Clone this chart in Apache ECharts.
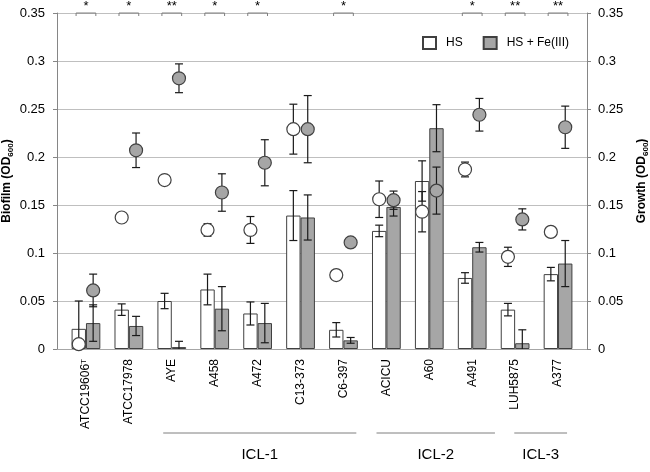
<!DOCTYPE html>
<html><head><meta charset="utf-8">
<script src="https://cdn.jsdelivr.net/npm/echarts@6/dist/echarts.min.js"></script>
<style>html,body{margin:0;padding:0;background:#fff}#c{width:650px;height:472px}</style>
</head><body><div id="c"></div>
<script>
// ---- data ----
const categories = ['ATCC19606','ATCC17978','AYE','A458','A472','C13-373','C6-397','ACICU','A60','A491','LUH5875','A377'];
const biofilmHS     = [0.021, 0.041, 0.050, 0.062, 0.037, 0.139, 0.020, 0.123, 0.175, 0.074, 0.041, 0.078];
const biofilmHSErr  = [0.029, 0.006, 0.008, 0.016, 0.012, 0.026, 0.0075, 0.006, 0.021, 0.0055, 0.0065, 0.007];
const biofilmFe     = [0.027, 0.024, 0.002, 0.042, 0.027, 0.137, 0.009, 0.148, 0.230, 0.106, 0.006, 0.089];
const biofilmFeErr  = [0.019, 0.010, 0.006, 0.023, 0.0205, 0.0235, 0.003, 0.0095, 0.0245, 0.005, 0.014, 0.024];
const growthHS      = [0.005, 0.137, 0.176, 0.124, 0.124, 0.229, 0.077, 0.156, 0.143, 0.187, 0.096, 0.122];
const growthHSErr   = [0, 0, 0, 0.0065, 0.014, 0.026, 0, 0.019, 0.021, 0.0077, 0.010, 0.0035];
const growthFe      = [0.061, 0.207, 0.282, 0.163, 0.194, 0.229, 0.111, 0.155, 0.165, 0.244, 0.135, 0.231];
const growthFeErr   = [0.017, 0.018, 0.015, 0.0195, 0.024, 0.035, 0, 0.0095, 0.0245, 0.017, 0.011, 0.022];
const significance  = ['*','*','**','*','*','','*','','','*','**','**'];
const yTicks = [0, 0.05, 0.1, 0.15, 0.2, 0.25, 0.3, 0.35];
const groups = [
  {name:'ICL-1', from:2, to:6},
  {name:'ICL-2', from:7, to:9},
  {name:'ICL-3', from:10, to:11}
];

// ---- chart ----
const FONT = 'Liberation Sans';
const chart = echarts.init(document.getElementById('c'), null, {renderer:'canvas'});
const GAP = 0.33;
const ERR_COLOR = '#1a1a1a';
const EDGE = '#404040';
const GRAY = '#a6a6a6';

function offsetFor(api, sign){ return sign * api.size([1,0])[0] * (1-GAP) / 4; }

function errRender(values, errs, sign){
  return function(params, api){
    const i = params.dataIndex;
    const v = values[i], e = errs[i];
    if (!e) return null;
    const off = offsetFor(api, sign);
    const p = api.coord([i, v]);
    const top = api.coord([i, v + e]);
    const low = v - e;
    const bot = api.coord([i, Math.max(0, low)]);
    const x = p[0] + off, cap = 4;
    const st = {stroke: ERR_COLOR, lineWidth: 1.2};
    const ch = [
      {type:'line', shape:{x1:x, y1:top[1], x2:x, y2:bot[1]}, style:st},
      {type:'line', shape:{x1:x-cap, y1:top[1], x2:x+cap, y2:top[1]}, style:st}
    ];
    if (low >= 0) ch.push({type:'line', shape:{x1:x-cap, y1:bot[1], x2:x+cap, y2:bot[1]}, style:st});
    return {type:'group', children: ch};
  };
}
function circleRender(values, sign, fill){
  return function(params, api){
    const i = params.dataIndex;
    const p = api.coord([i, values[i]]);
    return {type:'circle', shape:{cx: p[0] + offsetFor(api, sign), cy: p[1], r: 6.5},
      style:{fill: fill, stroke: EDGE, lineWidth: 1.2}};
  };
}
function sigRender(params, api){
  const i = params.dataIndex;
  const s = significance[i];
  if (!s) return null;
  const p = api.coord([i, yTicks[yTicks.length-1]]);
  const hw = api.size([1,0])[0] * 0.23;
  return {type:'group', children:[
    {type:'polyline', shape:{points:[[p[0]-hw, p[1]+3],[p[0]-hw, p[1]],[p[0]+hw, p[1]],[p[0]+hw, p[1]+3]]}, style:{stroke:'#7f7f7f', lineWidth:1, fill:null}},
    {type:'text', style:{text:s, x:p[0], y:p[1]-7, align:'center', verticalAlign:'middle', fontSize:13, fontFamily:FONT, fill:'#000'}}
  ]};
}
const idxData = categories.map((c,i)=>[i, 0]);

const nameStyle = {
  fontFamily: FONT, fontSize: 12, fontWeight: 'bold', color: '#000',
  rich: {
    b: {fontFamily: FONT, fontSize: 12, fontWeight: 'bold', color:'#000', lineHeight: 16, verticalAlign:'middle'},
    s: {fontFamily: FONT, fontSize: 8, fontWeight: 'bold', color:'#000', lineHeight: 16, verticalAlign:'bottom', padding:[6,0,0,0]}
  }
};

const option = {
  animation: false,
  backgroundColor: '#fff',
  textStyle: {fontFamily: FONT},
  grid: [
    {left: 64.5, right: 70.5, top: 13, bottom: 123, outerBoundsMode: 'none', containLabel: false},
    {left: 57, right: 63, top: 13, bottom: 123, outerBoundsMode: 'none', containLabel: false}
  ],
  legend: {
    data: ['HS', 'HS + Fe(III)'],
    left: 417, top: 31,
    itemWidth: 13, itemHeight: 12, itemGap: 20,
    icon: 'rect',
    textStyle: {fontFamily: FONT, fontSize: 12, color: '#000', padding:[0,0,0,5]}
  },
  xAxis: [
    {type:'category', gridIndex:0, data: categories,
     axisLine:{show:false}, axisTick:{show:false},
     axisLabel:{rotate:90, margin:10, fontFamily:FONT, fontSize:12, color:'#000', interval:0,
       formatter: (v, i) => i === 0 ? v + '{sup|T}' : v,
       rich:{sup:{fontFamily:FONT, fontSize:8, color:'#000', verticalAlign:'top', lineHeight:12}}}},
    {type:'value', gridIndex:1, min:0, max:1, show:true,
     axisLine:{show:true, lineStyle:{color:'#a6a6a6', width:1}}, axisTick:{show:false},
     axisLabel:{show:false}, splitLine:{show:false}}
  ],
  yAxis: [
    {type:'value', gridIndex:0, min:0, max:0.35, interval:0.05, show:false},
    {type:'value', gridIndex:1, position:'left', min:0, max:0.35, interval:0.05,
     name:'{b|Biofilm (OD}{s|600}{b|)}', nameLocation:'middle', nameRotate:90, nameGap:42,
     nameMoveOverlap: false,
     nameTextStyle: nameStyle,
     axisLine:{show:true, lineStyle:{color:'#868686', width:1}},
     axisTick:{show:true, length:4, lineStyle:{color:'#868686'}},
     axisLabel:{margin:12, fontFamily:FONT, fontSize:13, color:'#000'},
     splitLine:{show:true, lineStyle:{color:'#bfbfbf', width:1}}},
    {type:'value', gridIndex:1, position:'right', min:0, max:0.35, interval:0.05,
     name:'{b|Growth (OD}{s|600}{b|)}', nameLocation:'middle', nameRotate:90, nameGap:47,
     nameMoveOverlap: false,
     nameTextStyle: nameStyle,
     axisLine:{show:true, lineStyle:{color:'#868686', width:1}},
     axisTick:{show:true, length:4, lineStyle:{color:'#868686'}},
     axisLabel:{margin:11, fontFamily:FONT, fontSize:13, color:'#000'},
     splitLine:{show:false}}
  ],
  series: [
    {name:'HS', type:'bar', xAxisIndex:0, yAxisIndex:0, data: biofilmHS,
     barGap:'0%', barCategoryGap:(GAP*100)+'%',
     itemStyle:{color:'#ffffff', borderColor:EDGE, borderWidth:1}},
    {name:'HS + Fe(III)', type:'bar', xAxisIndex:0, yAxisIndex:0, data: biofilmFe,
     barGap:'0%', barCategoryGap:(GAP*100)+'%',
     itemStyle:{color:GRAY, borderColor:EDGE, borderWidth:1}},
    {name:'errBiofilmHS', type:'custom', xAxisIndex:0, yAxisIndex:0, data: idxData, renderItem: errRender(biofilmHS, biofilmHSErr, -1), z:3},
    {name:'errBiofilmFe', type:'custom', xAxisIndex:0, yAxisIndex:0, data: idxData, renderItem: errRender(biofilmFe, biofilmFeErr, 1), z:3},
    {name:'errGrowthHS', type:'custom', xAxisIndex:0, yAxisIndex:0, data: idxData, renderItem: errRender(growthHS, growthHSErr, -1), z:3},
    {name:'errGrowthFe', type:'custom', xAxisIndex:0, yAxisIndex:0, data: idxData, renderItem: errRender(growthFe, growthFeErr, 1), z:3},
    {name:'Growth HS', type:'custom', xAxisIndex:0, yAxisIndex:0, data: idxData, renderItem: circleRender(growthHS, -1, '#ffffff'), z:4},
    {name:'Growth HS + Fe(III)', type:'custom', xAxisIndex:0, yAxisIndex:0, data: idxData, renderItem: circleRender(growthFe, 1, GRAY), z:4},
    {name:'sig', type:'custom', xAxisIndex:0, yAxisIndex:0, data: idxData, renderItem: sigRender, z:5, clip:false}
  ]
};
chart.setOption(option);

// group annotations below the category labels
const groupOffsets = {'ICL-1':[-0.2, 0.3], 'ICL-2':[-0.23, 0.53], 'ICL-3':[-0.02, 0.21]};
const band = Math.abs(chart.convertToPixel({xAxisIndex:0}, 1) - chart.convertToPixel({xAxisIndex:0}, 0));
const graphics = [];
groups.forEach(g => {
  const off = groupOffsets[g.name];
  const xa = chart.convertToPixel({xAxisIndex:0}, g.from) + off[0]*band;
  const xb = chart.convertToPixel({xAxisIndex:0}, g.to) + off[1]*band;
  graphics.push({type:'line', shape:{x1:xa, y1:433, x2:xb, y2:433}, style:{stroke:'#7f7f7f', lineWidth:1}});
  graphics.push({type:'text', style:{text:g.name, x:(xa+xb)/2, y:455, align:'center', verticalAlign:'middle', fontSize:15, fontFamily:FONT, fill:'#000'}});
});
chart.setOption({graphic: graphics});
</script>
</body></html>
